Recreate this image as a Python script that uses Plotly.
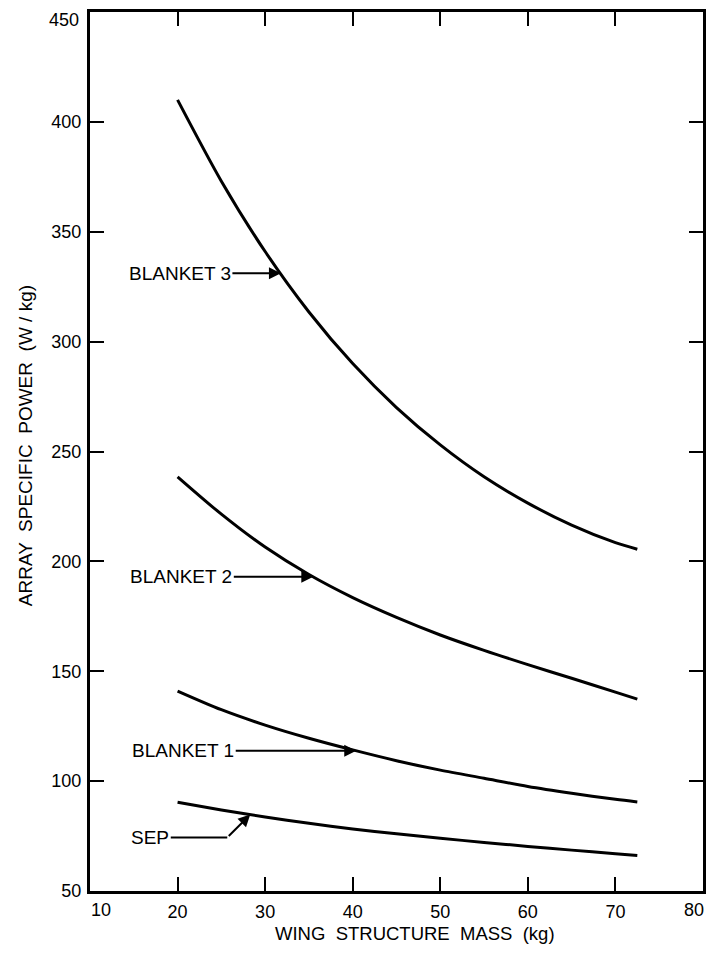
import numpy as np
import plotly.graph_objects as go

# Data
mass = [20, 25, 30, 35, 40, 45, 50, 55, 60, 65, 70, 72.5]
blanket3 = [410, 373, 341, 313.5, 290, 270, 253, 238.5, 226.5, 216.5, 208.5, 205.5]
blanket2 = [238.5, 221.5, 206.5, 194, 183.5, 174.5, 166.5, 159.5, 153, 146.8, 140.5, 137.3]
blanket1 = [141, 132.5, 125.5, 119.5, 114.2, 109.3, 105, 101.3, 97.6, 94.5, 91.7, 90.5]
sep = [90.4, 86.9, 83.7, 80.8, 78.2, 76.0, 74.0, 72.1, 70.3, 68.6, 67.0, 66.2]

x_ticks = [10, 20, 30, 40, 50, 60, 70, 80]
y_ticks = [50, 100, 150, 200, 250, 300, 350, 400, 450]

# page body has an 8px margin on every side; keep the figure inside the window
W, H = 701, 938
ML, MR, MT, MB = 82, 6, 4, 55
XR = (10, 80)
YR = (50, 450)
pxx = (W - ML - MR) / (XR[1] - XR[0])
pxy = (H - MT - MB) / (YR[1] - YR[0])

FONT = "Liberation Sans"
LBL = dict(family=FONT, size=19, color="black")
TICKF = dict(family=FONT, size=18, color="black")

fig = go.Figure()
for ys in (blanket3, blanket2, blanket1, sep):
    fig.add_trace(go.Scatter(x=mass, y=ys, mode="lines",
                             line=dict(color="black", width=3, shape="spline", smoothing=0.8),
                             showlegend=False, hoverinfo="skip"))

def tip(xv, series):
    return xv, float(np.interp(xv, mass, series))

anns = []
for label, xv, series, ax in (("BLANKET 3", 31.8, blanket3, -101),
                              ("BLANKET 2", 35.5, blanket2, -132),
                              ("BLANKET 1", 40.4, blanket1, -173)):
    tx, ty = tip(xv, series)
    anns.append(dict(x=tx, y=ty, xref="x", yref="y", text=label, showarrow=True,
                     ax=ax, ay=0, arrowhead=2, arrowsize=1.2, arrowwidth=2,
                     arrowcolor="black", font=LBL))

# SEP: bent leader
stx, sty = tip(28.3, sep)
bdx, bdy = 23, 23
anns.append(dict(x=stx, y=sty, xref="x", yref="y", text="", showarrow=True,
                 ax=-bdx, ay=bdy, arrowhead=2, arrowsize=1.2, arrowwidth=2,
                 arrowcolor="black"))
bx = stx - bdx / pxx
by = sty - bdy / pxy
anns.append(dict(x=bx, y=by, xref="x", yref="y", text="SEP", showarrow=True,
                 ax=-77, ay=0, arrowhead=0, arrowwidth=2, arrowcolor="black",
                 font=LBL))

# edge tick labels, nudged inward as in the reference
anns.append(dict(x=x_ticks[0], y=0, xref="x", yref="paper", text=str(x_ticks[0]),
                 showarrow=False, xshift=11, yshift=-19, yanchor="middle", font=TICKF))
anns.append(dict(x=x_ticks[-1], y=0, xref="x", yref="paper", text=str(x_ticks[-1]),
                 showarrow=False, xshift=-9, yshift=-19, yanchor="middle", font=TICKF))
anns.append(dict(x=0, y=y_ticks[-1], xref="paper", yref="y", text=str(y_ticks[-1]),
                 showarrow=False, xanchor="right", xshift=-9, yshift=-8, font=TICKF))

# axis titles
anns.append(dict(x=0.53, y=0, xref="paper", yref="paper", text="WING  STRUCTURE  MASS  (kg)",
                 showarrow=False, yanchor="middle", yshift=-42,
                 font=dict(family=FONT, size=18.5, color="black")))
anns.append(dict(x=0, y=0.506, xref="paper", yref="paper", text="ARRAY  SPECIFIC  POWER  (W / kg)",
                 showarrow=False, textangle=-90, xanchor="center", xshift=-65,
                 font=dict(family=FONT, size=19, color="black")))

axis_common = dict(showgrid=False, zeroline=False, showline=True, linecolor="black",
                   linewidth=3, mirror="ticks", ticks="inside", ticklen=14,
                   tickwidth=2, tickcolor="black", tickfont=TICKF)

xt = ["" if v in (x_ticks[0], x_ticks[-1]) else str(v) for v in x_ticks]
yt = ["" if v == y_ticks[-1] else str(v) for v in y_ticks]

fig.update_layout(
    width=W, height=H,
    margin=dict(l=ML, r=MR, t=MT, b=MB, autoexpand=False),
    paper_bgcolor="white", plot_bgcolor="white",
    xaxis=dict(range=list(XR), tickvals=x_ticks, ticktext=xt, ticklabelstandoff=2,
               **axis_common),
    yaxis=dict(range=list(YR), tickvals=y_ticks, ticktext=yt, ticklabelstandoff=2,
               **axis_common),
    annotations=anns,
)

fig.write_html("out.html")
